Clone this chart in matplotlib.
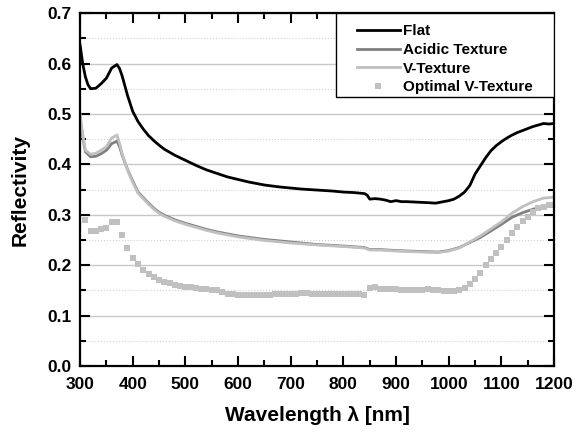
import numpy as np
import matplotlib
matplotlib.use('Agg')
import matplotlib.pyplot as plt
from matplotlib.ticker import MultipleLocator
from matplotlib.patches import Rectangle

plt.rcParams['font.family'] = ['Liberation Sans', 'DejaVu Sans']
plt.rcParams['font.weight'] = 'bold'

# Flat
wl_flat = np.array([300, 305, 310, 315, 320, 330, 340, 350, 360, 370, 375, 380, 390, 400, 410, 420, 430, 440, 450, 460,
                    480, 500, 520, 540, 560, 580, 600, 620, 650, 680, 700, 720, 750, 780, 800, 820, 840, 845, 850, 860,
                    870, 880, 890, 900, 910, 920, 940, 960, 975, 990, 1000, 1010, 1020, 1030, 1040, 1050, 1060, 1070,
                    1080, 1090, 1100, 1110, 1120, 1130, 1140, 1150, 1160, 1170, 1180, 1190, 1200])
r_flat = np.array([0.637, 0.600, 0.574, 0.558, 0.550, 0.551, 0.560, 0.571, 0.591, 0.598, 0.590, 0.575, 0.537, 0.505,
                   0.485, 0.470, 0.457, 0.447, 0.438, 0.430, 0.418, 0.408, 0.398, 0.389, 0.382, 0.375, 0.370, 0.365,
                   0.359, 0.355, 0.353, 0.351, 0.349, 0.347, 0.345, 0.344, 0.342, 0.339, 0.331, 0.332, 0.331, 0.329,
                   0.326, 0.328, 0.326, 0.326, 0.325, 0.324, 0.323, 0.326, 0.328, 0.331, 0.337, 0.345, 0.358, 0.381,
                   0.397, 0.413, 0.427, 0.437, 0.445, 0.452, 0.458, 0.463, 0.467, 0.471, 0.475, 0.478, 0.481, 0.480,
                   0.481])

# Acidic texture
wl_acid = np.array([300, 305, 310, 320, 330, 340, 350, 360, 370, 375, 380, 390, 400, 410, 420, 430, 440, 450, 460, 480,
                    500, 520, 540, 560, 580, 600, 650, 700, 750, 800, 840, 850, 870, 900, 950, 980, 1000, 1020, 1040,
                    1060, 1080, 1100, 1120, 1140, 1160, 1180, 1200])
r_acid = np.array([0.490, 0.455, 0.425, 0.415, 0.416, 0.421, 0.428, 0.441, 0.446, 0.435, 0.418, 0.390, 0.367, 0.345,
                   0.334, 0.323, 0.313, 0.305, 0.299, 0.290, 0.283, 0.277, 0.271, 0.266, 0.262, 0.258, 0.251, 0.246,
                   0.241, 0.238, 0.235, 0.231, 0.231, 0.229, 0.227, 0.226, 0.229, 0.235, 0.245, 0.255, 0.268, 0.281,
                   0.295, 0.304, 0.311, 0.316, 0.319])

# V-texture
wl_v = wl_acid
r_v = np.array([0.502, 0.460, 0.428, 0.420, 0.422, 0.428, 0.435, 0.452, 0.458, 0.442, 0.420, 0.389, 0.364, 0.343,
                0.332, 0.321, 0.311, 0.303, 0.297, 0.288, 0.281, 0.275, 0.269, 0.264, 0.260, 0.256, 0.249, 0.244,
                0.240, 0.237, 0.234, 0.230, 0.230, 0.228, 0.226, 0.225, 0.228, 0.234, 0.246, 0.258, 0.272, 0.286,
                0.303, 0.316, 0.326, 0.333, 0.335])

# optimal V-texture (every 10 nm)
wl_opt = np.arange(310, 1201, 10)
r_opt = np.array([0.290, 0.268, 0.267, 0.271, 0.274, 0.285, 0.285, 0.260, 0.235, 0.215,
                  0.202, 0.190, 0.183, 0.176, 0.171, 0.167, 0.164, 0.161, 0.158, 0.157,
                  0.156, 0.154, 0.153, 0.152, 0.151, 0.150, 0.147, 0.143, 0.142, 0.141,
                  0.141, 0.140, 0.140, 0.140, 0.141, 0.141, 0.142, 0.142, 0.142, 0.143,
                  0.143, 0.144, 0.144, 0.143, 0.143, 0.143, 0.143, 0.143, 0.143, 0.143,
                  0.143, 0.143, 0.142, 0.141, 0.155, 0.157, 0.152, 0.152, 0.152, 0.152,
                  0.151, 0.150, 0.151, 0.151, 0.151, 0.152, 0.151, 0.150, 0.149, 0.149,
                  0.149, 0.150, 0.155, 0.162, 0.172, 0.185, 0.200, 0.212, 0.225, 0.237,
                  0.250, 0.263, 0.276, 0.288, 0.296, 0.306, 0.313, 0.316, 0.319, 0.320])

fig = plt.figure(figsize=(5.76, 4.37), dpi=100)
ax = fig.add_axes([0.139, 0.1625, 0.823, 0.8075])

ax.plot(wl_flat, r_flat, color='black', lw=2, label='Flat')
ax.plot(wl_acid, r_acid, color='#808080', lw=2, label='Acidic Texture')
ax.plot(wl_v, r_v, color='#c0c0c0', lw=2, label='V-Texture')
ax.plot(wl_opt, r_opt, 's', color='#c0c0c0', ms=4, mew=0, label='Optimal V-Texture')

ax.set_xlim(300, 1200)
ax.set_ylim(0, 0.7)
ax.xaxis.set_major_locator(MultipleLocator(100))
ax.xaxis.set_minor_locator(MultipleLocator(50))
ax.yaxis.set_major_locator(MultipleLocator(0.1))
ax.yaxis.set_minor_locator(MultipleLocator(0.05))
ax.yaxis.set_major_formatter(plt.FormatStrFormatter('%.1f'))

ax.grid(True, which='major', axis='y', color='#c8c8c8', lw=1, ls='-')
ax.grid(True, which='minor', axis='y', color='#d0d0d0', lw=0.8, ls=':')
ax.set_axisbelow(True)

ax.tick_params(which='both', direction='in', top=True, right=True, width=1.5, labelsize=12.5)
ax.tick_params(which='major', length=7)
ax.tick_params(which='minor', length=4)
ax.tick_params(axis='x', pad=8)
ax.tick_params(axis='y', pad=6)
for lab in ax.get_xticklabels() + ax.get_yticklabels():
    lab.set_fontweight('bold')
for s in ax.spines.values():
    s.set_linewidth(1.6)

ax.set_xlabel('Wavelength \u03bb [nm]', fontsize=15, fontweight='bold', labelpad=10)
ax.set_ylabel('Reflectivity', fontsize=15, fontweight='bold', labelpad=13)

# legend box drawn separately, legend itself without frame
ax.add_patch(Rectangle((0.540, 0.762), 0.460, 0.238, transform=ax.transAxes, facecolor='white',
                       edgecolor='black', lw=1.0, zorder=4))
leg = ax.legend(loc='upper left', bbox_to_anchor=(0.584, 0.968), borderaxespad=0, borderpad=0, frameon=False,
                fontsize=11, handlelength=2.8, handletextpad=0.2, labelspacing=0.3, numpoints=1)
leg.set_zorder(5)

plt.savefig('out.png', dpi=100)
